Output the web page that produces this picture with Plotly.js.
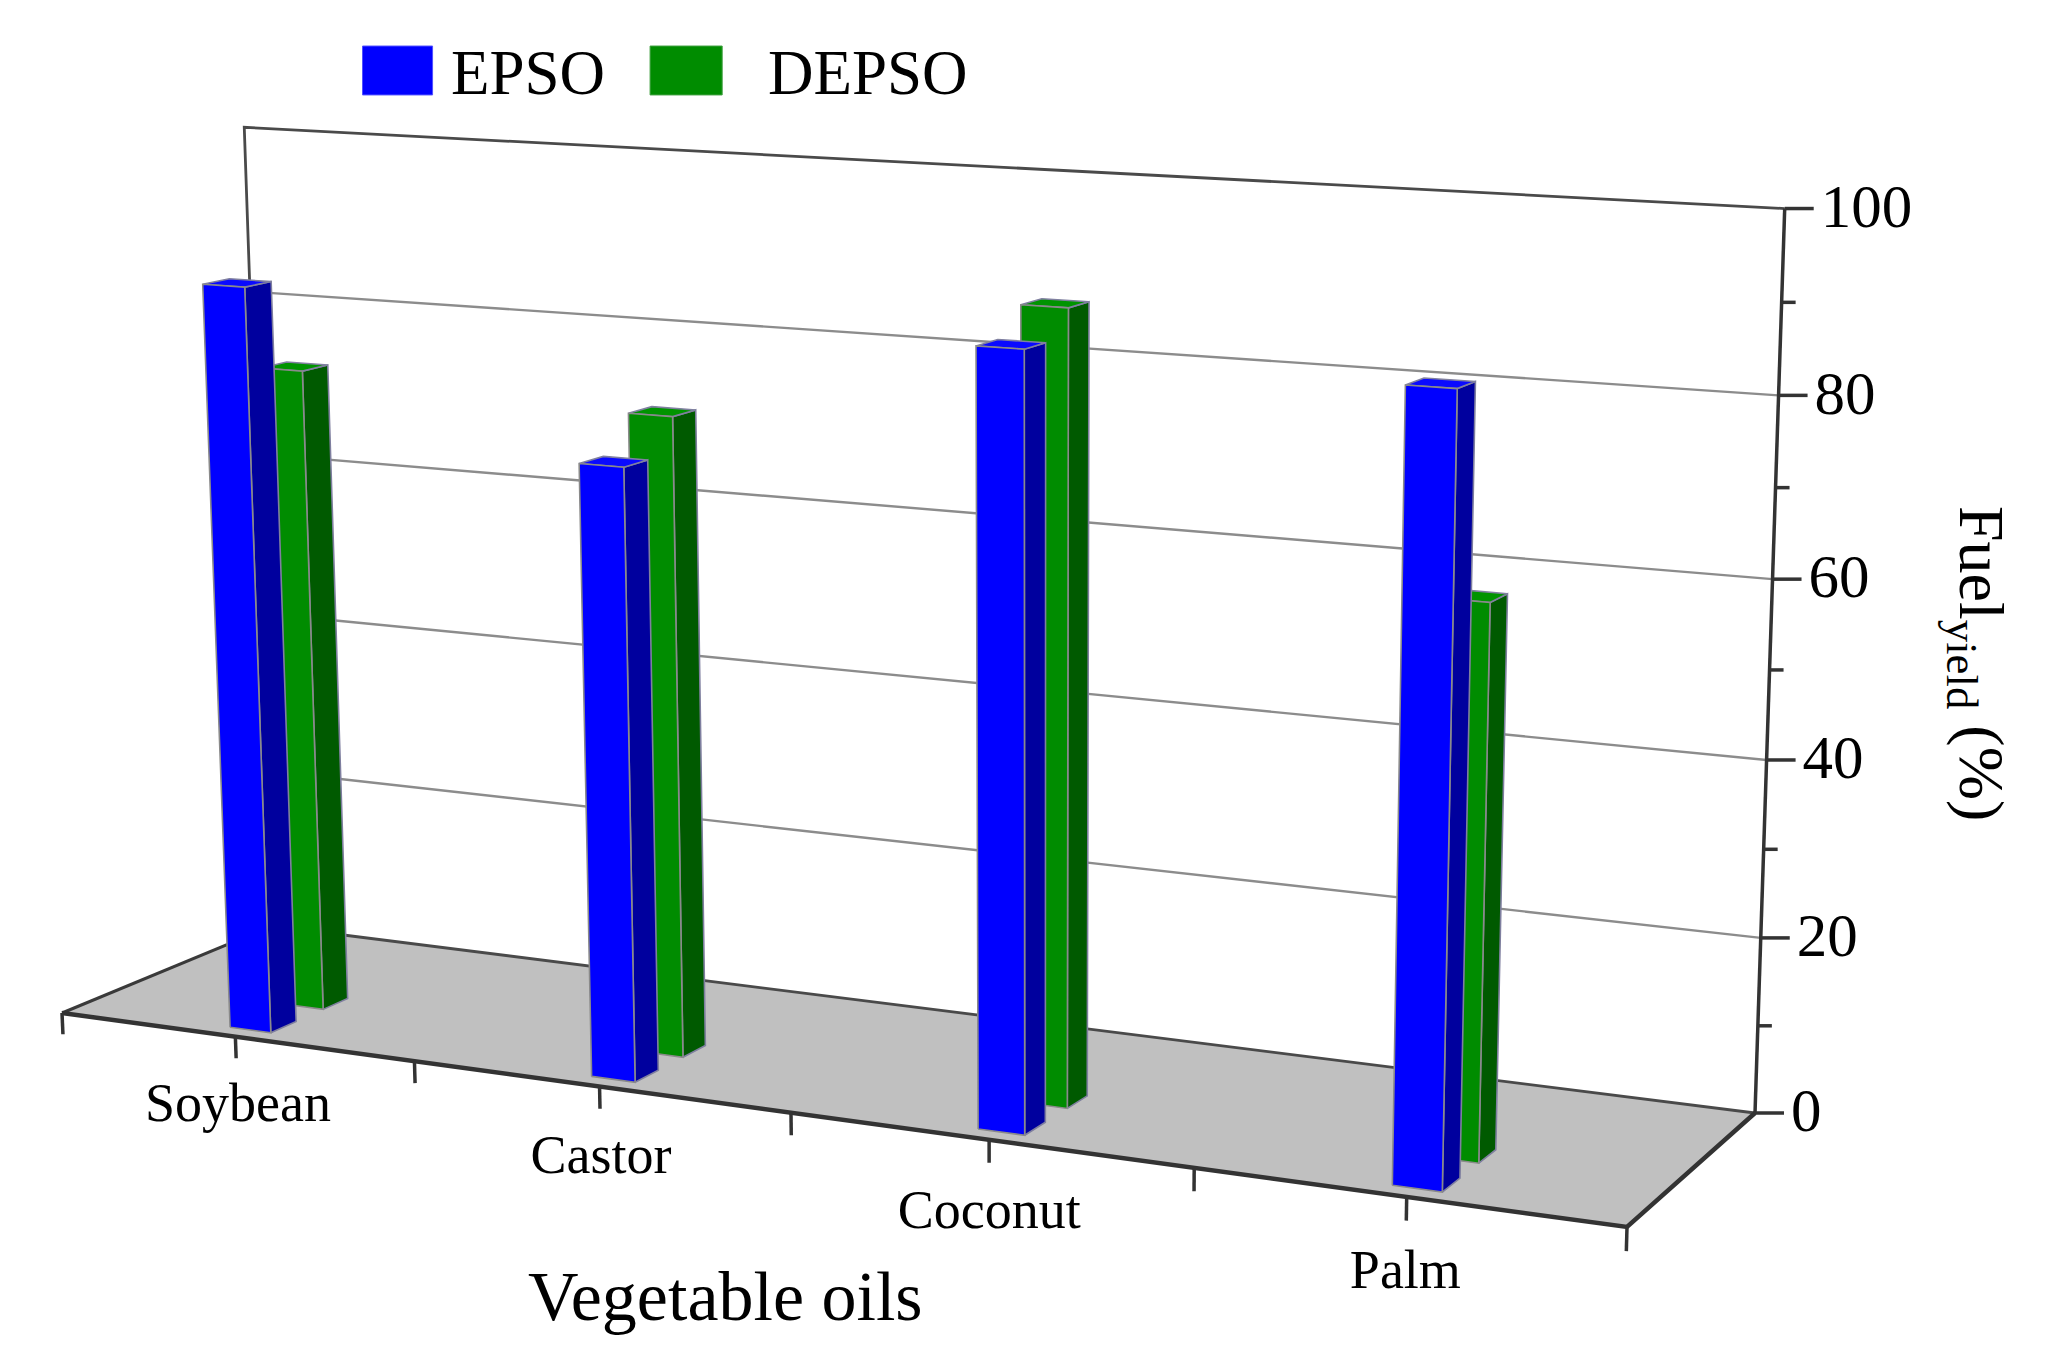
<!DOCTYPE html>
<html>
<head>
<meta charset="utf-8">
<script src="https://cdn.plot.ly/plotly-3.0.1.min.js"></script>
<style>
  html, body { margin: 0; padding: 0; background: #fff; }
  #chart { width: 2054px; height: 1370px; }
</style>
</head>
<body>
<div id="chart"></div>
<script>
// values
const categories = ['Soybean', 'Castor', 'Coconut', 'Palm'];
const epso = [87, 70, 86, 85];
const depso = [76, 74, 89, 61];
const seriesNames = ['EPSO', 'DEPSO'];
const valueTicks = [0, 20, 40, 60, 80, 100];
const minorValueTicks = [10, 30, 50, 70, 90];

const serif = 'Liberation Serif, Times New Roman, serif';

// --- 3D box seen in perspective (no WebGL here, so the box is projected by hand)
// floor corners and the two top corners of the back wall, in page pixels
const box = {
  uMin: -0.5, uMax: 3.5, zMax: 100,
  fl: [62, 1013], fr: [1627, 1227], br: [1755, 1113], bl: [272, 926],
  blTop: [244, 133], brTop: [1785, 202]
};
const barHalf = 0.058;
const rows = {EPSO: [0.07, 0.19], DEPSO: [0.32, 0.44]};

function solve3(M, v) {
  const det = function(m) {
    return m[0][0] * (m[1][1] * m[2][2] - m[1][2] * m[2][1]) -
           m[0][1] * (m[1][0] * m[2][2] - m[1][2] * m[2][0]) +
           m[0][2] * (m[1][0] * m[2][1] - m[1][1] * m[2][0]);
  };
  const D = det(M);
  return [0, 1, 2].map(function(col) {
    const m = M.map(function(r, i) {
      return r.map(function(x, j) { return j === col ? v[i] : x; });
    });
    return det(m) / D;
  });
}

function makeProjector(b) {
  const x0 = b.fl[0], y0 = b.fl[1], x1 = b.fr[0], y1 = b.fr[1];
  const x2 = b.br[0], y2 = b.br[1], x3 = b.bl[0], y3 = b.bl[1];
  const dx1 = x1 - x2, dx2 = x3 - x2, dx3 = x0 - x1 + x2 - x3;
  const dy1 = y1 - y2, dy2 = y3 - y2, dy3 = y0 - y1 + y2 - y3;
  const den = dx1 * dy2 - dx2 * dy1;
  const g = (dx3 * dy2 - dx2 * dy3) / den;
  const h = (dx1 * dy3 - dx3 * dy1) / den;
  const a = x1 - x0 + g * x1, bb = x3 - x0 + h * x3, c = x0;
  const d = y1 - y0 + g * y1, e = y3 - y0 + h * y3, f = y0;
  const floorH = function(s, t) {
    return [a * s + bb * t + c, d * s + e * t + f, g * s + h * t + 1];
  };
  // vertical column fitted on the two top corners (least squares)
  const A = [], r = [];
  [[1, 1, b.brTop], [0, 1, b.blTop]].forEach(function(q) {
    const n = floorH(q[0], q[1]);
    const X = q[2][0], Y = q[2][1];
    A.push([1, 0, -X]); r.push(X * n[2] - n[0]);
    A.push([0, 1, -Y]); r.push(Y * n[2] - n[1]);
  });
  const M = [[0, 0, 0], [0, 0, 0], [0, 0, 0]], v = [0, 0, 0];
  A.forEach(function(row, k) {
    for (let i = 0; i < 3; i++) {
      v[i] += row[i] * r[k];
      for (let j = 0; j < 3; j++) M[i][j] += row[i] * row[j];
    }
  });
  const zc = solve3(M, v);
  return function(u, depth, z) {
    const s = (u - b.uMin) / (b.uMax - b.uMin);
    const k = z / b.zMax;
    const n = floorH(s, depth);
    const w = n[2] + k * zc[2];
    return [(n[0] + k * zc[0]) / w, (n[1] + k * zc[1]) / w];
  };
}

const P = makeProjector(box);

function pathOf(pts3, closed) {
  const xs = [], ys = [];
  pts3.forEach(function(p) {
    const q = P(p[0], p[1], p[2]);
    xs.push(q[0]); ys.push(q[1]);
  });
  if (closed) { xs.push(xs[0]); ys.push(ys[0]); }
  return [xs, ys];
}

function joined(paths) {
  const x = [], y = [];
  paths.forEach(function(p, i) {
    if (i) { x.push(null); y.push(null); }
    x.push.apply(x, p[0]); y.push.apply(y, p[1]);
  });
  return {x: x, y: y};
}

function lineTrace(paths, color, width) {
  const xy = joined(paths);
  return {type: 'scatter', mode: 'lines', x: xy.x, y: xy.y,
          line: {color: color, width: width}, hoverinfo: 'skip', showlegend: false};
}

function faceTrace(paths, fill, edge) {
  const xy = joined(paths);
  return {type: 'scatter', mode: 'lines', x: xy.x, y: xy.y, fill: 'toself',
          fillcolor: fill, line: {color: edge, width: 1.6},
          hoverinfo: 'skip', showlegend: false};
}

function barTraces(values, row, front, side, top) {
  const fronts = [], sides = [], tops = [];
  values.forEach(function(v, c) {
    const u0 = c - barHalf, u1 = c + barHalf, d0 = row[0], d1 = row[1];
    fronts.push(pathOf([[u0, d0, 0], [u1, d0, 0], [u1, d0, v], [u0, d0, v]], true));
    sides.push(pathOf([[u1, d0, 0], [u1, d1, 0], [u1, d1, v], [u1, d0, v]], true));
    tops.push(pathOf([[u0, d0, v], [u1, d0, v], [u1, d1, v], [u0, d1, v]], true));
  });
  return [faceTrace(sides, side, '#7f7f9f'), faceTrace(tops, top, '#8080a0'),
          faceTrace(fronts, front, '#8a8a8a')];
}

const U0 = box.uMin, U1 = box.uMax;

const floorPath = pathOf([[U0, 0, 0], [U1, 0, 0], [U1, 1, 0], [U0, 1, 0]], true);
const floor = {
  type: 'scatter', mode: 'none', fill: 'toself', fillcolor: '#c0c0c0',
  x: floorPath[0], y: floorPath[1], hoverinfo: 'skip', showlegend: false
};

const gridLines = lineTrace(valueTicks.filter(function(t) { return t > 0 && t < 100; })
  .map(function(t) { return pathOf([[U0, 1, t], [U1, 1, t]]); }), '#8c8c8c', 2.4);

const wallEdges = lineTrace([
  pathOf([[U0, 1, 0], [U0, 1, 100], [U1, 1, 100]]),
  pathOf([[U0, 1, 0], [U1, 1, 0]])
], '#4a4a4a', 2.8);

const floorLeft = lineTrace([pathOf([[U0, 0, 0], [U0, 1, 0]])], '#3a3a3a', 3);

const frontEdges = lineTrace([
  pathOf([[U0, 0, 0], [U1, 0, 0], [U1, 1, 0]])
], '#333333', 4.5);

const zAxisLine = lineTrace([pathOf([[U1, 1, 0], [U1, 1, 100]])], '#333333', 3.5);

// x ticks at every half category along the front edge
const xTickPos = [];
for (let u = U0; u <= U1 + 1e-9; u += 0.5) xTickPos.push(u);
const xTicks = lineTrace(xTickPos.map(function(u) {
  return pathOf([[u, 0, 0], [u, 0, -2.6]]);
}), '#333333', 3.5);

// value ticks point to the right of the axis
function zTickPaths(ticks, len) {
  return ticks.map(function(t) {
    const p = P(U1, 1, t);
    return [[p[0], p[0] + len], [p[1], p[1]]];
  });
}
const zMajor = lineTrace(zTickPaths(valueTicks, 29), '#333333', 3.5);
const zMinor = lineTrace(zTickPaths(minorValueTicks, 14), '#333333', 3.5);

const catPos = categories.map(function(_, c) { return P(c, 0, -8.5); });
const catLabels = {
  type: 'scatter', mode: 'text', hoverinfo: 'skip', showlegend: false,
  x: catPos.map(function(p) { return p[0]; }),
  y: catPos.map(function(p) { return p[1]; }),
  text: categories, textposition: 'middle center',
  textfont: {family: serif, size: 54, color: '#000'}
};

const zPos = valueTicks.map(function(t) { return P(U1, 1, t); });
const zLabels = {
  type: 'scatter', mode: 'text', hoverinfo: 'skip', showlegend: false,
  x: zPos.map(function(p) { return p[0] + 36; }),
  y: zPos.map(function(p) { return p[1] + 3; }),
  text: valueTicks.map(String), textposition: 'middle right',
  textfont: {family: serif, size: 61, color: '#000'}
};

const data = [floor, gridLines, wallEdges, floorLeft, frontEdges, xTicks]
  .concat(barTraces(depso, rows.DEPSO, '#008c00', '#005a00', '#009400'))
  .concat(barTraces(epso, rows.EPSO, '#0000ff', '#00009e', '#0a0aff'))
  .concat([zAxisLine, zMajor, zMinor, catLabels, zLabels]);

const layout = {
  width: 2054, height: 1370,
  margin: {l: 0, r: 0, t: 0, b: 0},
  paper_bgcolor: '#fff', plot_bgcolor: '#fff',
  showlegend: false, hovermode: false,
  xaxis: {range: [0, 2054], visible: false, fixedrange: true},
  yaxis: {range: [1370, 0], visible: false, fixedrange: true},
  annotations: [
    {xref: 'paper', yref: 'paper', x: 0.353, y: 0.054, yanchor: 'middle', showarrow: false,
     text: 'Vegetable oils', font: {family: serif, size: 70, color: '#000'}},
    {xref: 'paper', yref: 'paper', x: 0.983, y: 0.516, yanchor: 'middle', showarrow: false,
     textangle: 90, text: 'Fuel<sub>yield</sub> (%)',
     font: {family: serif, size: 64, color: '#000'}},
    {xref: 'paper', yref: 'paper', x: 0.2186, y: 0.9467, xanchor: 'left', yanchor: 'middle',
     showarrow: false, text: seriesNames[0], font: {family: serif, size: 63, color: '#000'}},
    {xref: 'paper', yref: 'paper', x: 0.3729, y: 0.9467, xanchor: 'left', yanchor: 'middle',
     showarrow: false, text: seriesNames[1], font: {family: serif, size: 63, color: '#000'}}
  ],
  shapes: [
    {type: 'rect', xref: 'paper', yref: 'paper', x0: 0.1765, x1: 0.2106, y0: 0.9307, y1: 0.9664,
     fillcolor: '#0000ff', line: {color: '#5050ff', width: 1}},
    {type: 'rect', xref: 'paper', yref: 'paper', x0: 0.3165, x1: 0.3516, y0: 0.9307, y1: 0.9664,
     fillcolor: '#008c00', line: {color: '#40a040', width: 1}}
  ]
};

Plotly.newPlot('chart', data, layout, {displayModeBar: false, staticPlot: true});
</script>
</body>
</html>
